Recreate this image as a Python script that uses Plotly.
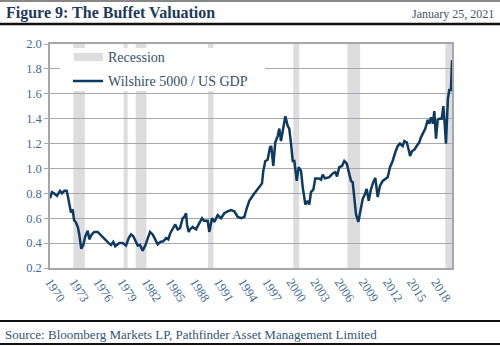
import plotly.graph_objects as go

# ---------------- data ----------------
dates = [1970.92, 1971.17, 1971.42, 1971.79, 1972.16, 1972.41, 1972.70, 1973.00, 1973.16, 1973.41,
         1973.53, 1973.74, 1973.91, 1974.15, 1974.40, 1974.56, 1974.81, 1975.06, 1975.31, 1975.61,
         1975.81, 1976.11, 1976.43, 1976.85, 1977.14, 1977.47, 1977.89, 1978.22, 1978.51, 1978.79,
         1979.04, 1979.34, 1979.54, 1979.96, 1980.37, 1980.71, 1981.00, 1981.28, 1981.53, 1981.83,
         1982.11, 1982.45, 1982.77, 1983.07, 1983.36, 1983.69, 1984.02, 1984.32, 1984.64, 1985.01,
         1985.35, 1985.63, 1985.88, 1986.18, 1986.50, 1986.80, 1987.09, 1987.42, 1987.62, 1987.84,
         1987.96, 1988.17, 1988.33, 1988.67, 1989.08, 1989.49, 1989.83, 1990.07, 1990.53, 1990.73,
         1991.07, 1991.36, 1991.78, 1992.19, 1992.60, 1993.02, 1993.43, 1993.84, 1994.27, 1994.68,
         1995.09, 1995.39, 1995.71, 1996.13, 1996.54, 1996.95, 1997.29, 1997.45, 1997.70, 1997.99,
         1998.28, 1998.44, 1998.69, 1998.94, 1999.24, 1999.44, 1999.65, 1999.94, 2000.19, 2000.49,
         2000.68, 2000.90, 2001.11, 2001.31, 2001.43, 2001.61, 2001.85, 2002.14, 2002.35, 2002.68,
         2002.97, 2003.17, 2003.38, 2003.67, 2003.92, 2004.34, 2004.63, 2004.84, 2005.12, 2005.46,
         2005.66, 2006.08, 2006.41, 2006.62, 2006.90, 2007.24, 2007.52, 2007.82, 2008.07, 2008.36,
         2008.57, 2008.77, 2008.98, 2009.27, 2009.52, 2009.81, 2010.10, 2010.31, 2010.56, 2010.85,
         2011.13, 2011.38, 2011.68, 2011.96, 2012.30, 2012.62, 2012.92, 2013.21, 2013.54, 2013.87,
         2014.17, 2014.45, 2014.79, 2014.99, 2015.29, 2015.61, 2015.70, 2015.95, 2016.23, 2016.53,
         2016.85, 2017.06, 2017.35, 2017.60, 2017.90, 2018.10, 2018.31, 2018.55, 2018.72, 2018.93,
         2019.14, 2019.34, 2019.64, 2019.84, 2020.01, 2020.17, 2020.41, 2020.58, 2020.79, 2020.92]

ratio = [0.76, 0.81, 0.80, 0.78, 0.82, 0.80, 0.82, 0.82, 0.77, 0.70,
         0.645, 0.67, 0.585, 0.565, 0.525, 0.47, 0.355, 0.385, 0.455, 0.50,
         0.43, 0.47, 0.49, 0.49, 0.47, 0.445, 0.42, 0.40, 0.385, 0.41,
         0.375, 0.39, 0.40, 0.40, 0.38, 0.44, 0.47, 0.455, 0.42, 0.38,
         0.385, 0.34, 0.38, 0.43, 0.49, 0.47, 0.43, 0.39, 0.41, 0.415,
         0.44, 0.43, 0.48, 0.52, 0.55, 0.51, 0.52, 0.60, 0.61, 0.64,
         0.55, 0.49, 0.51, 0.53, 0.51, 0.56, 0.60, 0.58, 0.58, 0.49,
         0.60, 0.57, 0.625, 0.60, 0.64, 0.655, 0.665, 0.655, 0.61, 0.60,
         0.61, 0.68, 0.74, 0.78, 0.82, 0.85, 0.88, 0.98, 1.06, 1.07,
         1.17, 1.18, 1.02, 1.21, 1.26, 1.32, 1.22, 1.34, 1.42, 1.34,
         1.32, 1.20, 1.06, 1.06, 1.01, 0.90, 1.01, 0.98, 0.85, 0.71,
         0.74, 0.71, 0.81, 0.83, 0.92, 0.92, 0.91, 0.95, 0.92, 0.93,
         0.93, 0.96, 0.97, 0.935, 1.01, 1.02, 1.06, 1.04, 0.97, 0.90,
         0.89, 0.77, 0.63, 0.57, 0.66, 0.755, 0.795, 0.835, 0.74, 0.835,
         0.89, 0.925, 0.77, 0.86, 0.90, 0.915, 0.93, 1.01, 1.06, 1.13,
         1.18, 1.20, 1.18, 1.22, 1.21, 1.13, 1.10, 1.14, 1.15, 1.18,
         1.21, 1.25, 1.29, 1.32, 1.39, 1.36, 1.41, 1.36, 1.46, 1.24,
         1.39, 1.40, 1.40, 1.50, 1.36, 1.20, 1.56, 1.63, 1.63, 1.87]

recession_start = [1973.83, 1980.08, 1981.58, 1990.58, 2001.17, 2007.92, 2020.08]
recession_end = [1975.25, 1980.58, 1982.92, 1991.25, 2001.92, 2009.50, 2020.92]

tick_years = [1970, 1973, 1976, 1979, 1982, 1985, 1988, 1991, 1994, 1997,
              2000, 2003, 2006, 2009, 2012, 2015, 2018]
tick_positions = [y + 0.92 for y in tick_years]  # labels sit on each December

# ---------------- layout helpers ----------------
W, H = 500, 346
ML, MR, MT, MB = 50, 48, 44, 78
PW, PH = W - ML - MR, H - MT - MB


def px_x(px):
    return (px - ML) / PW


def px_y(py):
    return (H - MB - py) / PH


SERIF = "Liberation Serif, Times New Roman, serif"
NAVY = "#1d3a5c"
LINE = "#0f3a60"
TICK = "#3f6c93"
GRID = "#a7a7ad"
RECESS = "#dddde0"

fig = go.Figure()

fig.add_trace(go.Scatter(
    x=dates, y=ratio, mode="lines",
    line=dict(color=LINE, width=2.5),
    name="Wilshire 5000 / US GDP", showlegend=False,
    hoverinfo="skip",
))

shapes = []
for s, e in zip(recession_start, recession_end):
    shapes.append(dict(type="rect", xref="x", yref="y", x0=s, x1=e, y0=0.2, y1=2.0,
                       fillcolor=RECESS, line=dict(width=0), layer="below"))

# custom legend box
shapes.append(dict(type="rect", xref="paper", yref="paper",
                   x0=px_x(60), x1=px_x(265), y0=px_y(91), y1=px_y(48),
                   fillcolor="white", line=dict(width=0), layer="above"))
shapes.append(dict(type="rect", xref="paper", yref="paper",
                   x0=px_x(74), x1=px_x(103), y0=px_y(61), y1=px_y(53),
                   fillcolor=RECESS, line=dict(width=0), layer="above"))
shapes.append(dict(type="line", xref="paper", yref="paper",
                   x0=px_x(73), x1=px_x(103), y0=px_y(81), y1=px_y(81),
                   line=dict(color=LINE, width=2.5), layer="above"))

# header / footer rules
for py, wdt in [(1, 1.2), (24, 2.6), (321, 2.2), (344, 2.2)]:
    shapes.append(dict(type="line", xref="paper", yref="paper",
                       x0=px_x(0), x1=px_x(500), y0=px_y(py), y1=px_y(py),
                       line=dict(color="#111111", width=wdt), layer="above"))

annotations = [
    dict(text="<b>Figure 9: The Buffet Valuation</b>", xref="paper", yref="paper",
         x=px_x(4), y=px_y(13), xanchor="left", yanchor="middle", showarrow=False,
         font=dict(family=SERIF, size=16, color=NAVY)),
    dict(text="January 25, 2021", xref="paper", yref="paper",
         x=px_x(496), y=px_y(14), xanchor="right", yanchor="middle", showarrow=False,
         font=dict(family=SERIF, size=12, color="#44546a")),
    dict(text="Source: Bloomberg Markets LP, Pathfinder Asset Management Limited",
         xref="paper", yref="paper", x=px_x(3), y=px_y(334), xanchor="left", yanchor="middle",
         showarrow=False, font=dict(family=SERIF, size=13, color="#2f5478")),
    dict(text="Recession", xref="paper", yref="paper", x=px_x(106), y=px_y(57),
         xanchor="left", yanchor="middle", showarrow=False,
         font=dict(family=SERIF, size=14, color="#33506e")),
    dict(text="Wilshire 5000 / US GDP", xref="paper", yref="paper", x=px_x(106), y=px_y(81),
         xanchor="left", yanchor="middle", showarrow=False,
         font=dict(family=SERIF, size=14, color="#33506e")),
]

fig.update_layout(
    width=W, height=H,
    margin=dict(l=ML, r=MR, t=MT, b=MB, pad=0),
    paper_bgcolor="white", plot_bgcolor="white",
    shapes=shapes, annotations=annotations,
    showlegend=False,
    xaxis=dict(
        range=[dates[0], dates[-1]],
        tickmode="array", tickvals=tick_positions, ticktext=[str(y) for y in tick_years],
        tickangle=57, showgrid=False, zeroline=False,
        showline=True, linecolor=GRID, linewidth=1.5, mirror=True,
        ticks="", tickfont=dict(family=SERIF, size=12.5, color=TICK),
    ),
    yaxis=dict(
        range=[0.2, 2.0], dtick=0.2, tick0=0.2, tickformat=".1f",
        showgrid=True, gridcolor=GRID, gridwidth=1.4, zeroline=False,
        showline=True, linecolor=GRID, linewidth=1.5, mirror=True,
        ticks="outside", ticklen=4, tickcolor=GRID, tickwidth=1.4,
        tickfont=dict(family=SERIF, size=12.5, color=TICK),
    ),
)

fig.write_html("out.html")
